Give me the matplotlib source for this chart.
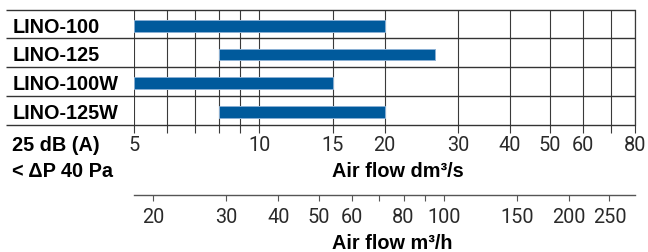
import matplotlib
matplotlib.use("Agg")
import matplotlib.pyplot as plt
from matplotlib.ticker import FixedLocator, FixedFormatter, NullFormatter
from matplotlib.transforms import blended_transform_factory

# data
models = ["LINO-100", "LINO-125", "LINO-100W", "LINO-125W"]
flow_min = [5, 8, 5, 8]      # dm3/s
flow_max = [20, 26.5, 15, 20]

dm3s_major = [5, 10, 15, 20, 30, 40, 50, 60, 80]
dm3s_minor = [6, 7, 8, 9, 70]
m3h_major = [20, 30, 40, 50, 60, 80, 100, 150, 200, 250]
m3h_minor = [70, 90]

W, H = 648, 253
bold = dict(family=["Liberation Sans", "DejaVu Sans"], fontweight="bold", fontsize=14.3)
tickfont = dict(family=["Roboto", "Liberation Sans", "DejaVu Sans"], fontweight="normal", fontsize=14.3)
grid_c = "#3a3a3a"
blue = "#005a9c"

fig = plt.figure(figsize=(W / 100, H / 100), dpi=100)
fig.patch.set_facecolor("white")

# main chart: rows of bars over a log flow axis
x0, x1, ytop, ybot = 134, 635, 10.7, 125.5
ax = fig.add_axes([x0 / W, 1 - ybot / H, (x1 - x0) / W, (ybot - ytop) / H])
ax.set_xscale("log")
ax.set_xlim(5, 80)
ax.set_ylim(3.5, -0.5)

for i in range(len(models)):
    ax.barh(i + 0.06, flow_max[i] - flow_min[i], left=flow_min[i], height=0.4,
            color=blue, edgecolor="#8ab0d4", linewidth=0.7, zorder=3)

ax.xaxis.set_major_locator(FixedLocator(dm3s_major))
ax.xaxis.set_minor_locator(FixedLocator(dm3s_minor))
ax.xaxis.set_major_formatter(FixedFormatter([str(v) for v in dm3s_major]))
ax.xaxis.set_minor_formatter(NullFormatter())
ax.grid(True, which="both", axis="x", color=grid_c, lw=0.8, zorder=1)
ax.tick_params(axis="x", which="both", direction="out", length=5.5, width=0.8,
               color=grid_c, pad=2, labelcolor="#2a2a2a")
for t in ax.get_xticklabels():
    t.set(**tickfont)

for s in ["top", "bottom", "left"]:
    ax.spines[s].set_visible(False)
ax.spines["right"].set_color(grid_c)
ax.spines["right"].set_linewidth(0.9)

# row separators, reaching under the model names
ax.hlines([-0.5, 0.5, 1.5, 2.5, 3.5], (6 - x0) / (x1 - x0), 1,
          transform=ax.get_yaxis_transform(), colors="#333333", lw=1.0, clip_on=False, zorder=4)

ax.set_yticks(range(len(models)))
ax.set_yticklabels(models, **bold)
ax.tick_params(axis="y", length=0, pad=(x0 - 12.5) * 0.72)
for t in ax.get_yticklabels():
    t.set_ha("left")

ax.set_xlabel("Air flow dm³/s", **bold)
ax.xaxis.set_label_coords((398 - x0) / (x1 - x0), -(171.5 - ybot) / (ybot - ytop))
ax.xaxis.label.set_va("center")

fig.text(12 / W, 1 - 145.5 / H, "25 dB (A)", ha="left", va="center", **bold)
fig.text(12 / W, 1 - 171.5 / H, "< ΔP 40 Pa", ha="left", va="center", **bold)

# second scale in m3/h (1 dm3/s = 3.6 m3/h)
y2 = 195.7
ax2 = fig.add_axes([x0 / W, 1 - y2 / H, (x1 - x0) / W, 0.001])
ax2.set_xscale("log")
ax2.set_xlim(5 * 3.6, 80 * 3.6)
ax2.set_yticks([])
ax2.patch.set_visible(False)
for s in ["top", "right", "left"]:
    ax2.spines[s].set_visible(False)
ax2.spines["bottom"].set_color("#555555")
ax2.spines["bottom"].set_linewidth(1.0)
ax2.xaxis.set_major_locator(FixedLocator(m3h_major))
ax2.xaxis.set_minor_locator(FixedLocator(m3h_minor))
ax2.xaxis.set_major_formatter(FixedFormatter([str(v) for v in m3h_major]))
ax2.xaxis.set_minor_formatter(NullFormatter())
ax2.tick_params(axis="x", which="both", direction="out", length=4.5, width=0.8,
                color="#555555", pad=4, labelcolor="#2a2a2a")
for t in ax2.get_xticklabels():
    t.set(**tickfont)
ax2.set_xlabel("Air flow m³/h", **bold)
ax2.xaxis.set_label_coords((392 - x0) / (x1 - x0), 1 - 243.5 / H,
                           transform=blended_transform_factory(ax2.transAxes, fig.transFigure))
ax2.xaxis.label.set_va("center")

fig.savefig("out.png", dpi=100, facecolor="white")
